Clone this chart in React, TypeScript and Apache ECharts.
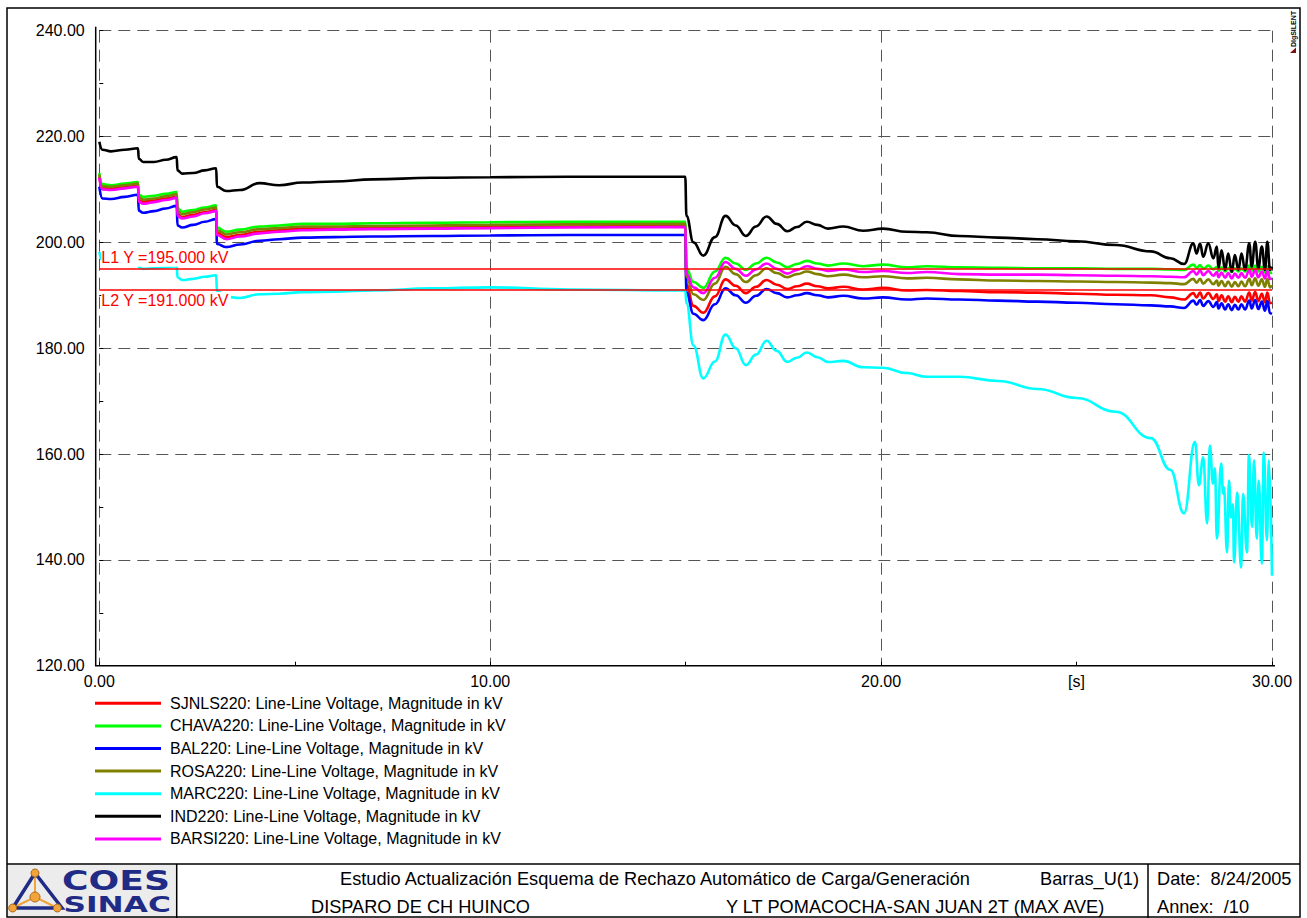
import React, { useEffect, useRef } from "react";
import * as echarts from "echarts";

const FONT = "'Liberation Sans', Arial, Helvetica, sans-serif";

// ---- time grids [s] ----
const timeMain = [
  0, 0.08, 0.3, 0.65, 0.99, 1.01, 1.12, 1.4, 1.7, 1.98, 2.0, 2.12, 2.4, 2.7, 2.99,
  3.01, 3.25, 3.6, 4.1, 4.6, 5.2, 6.0, 7.0, 8.5, 10.0, 12.0, 14.99,
  15.02, 15.2, 15.45, 15.75, 16.02, 16.28, 16.54, 16.8, 17.07, 17.33, 17.6, 17.85, 18.1,
  18.37, 18.64, 19.03, 19.54, 20.05, 20.66, 21.17, 22.0, 23.0, 24.0, 25.0, 26.0, 26.9, 27.4, 27.75,
];
const timeTail = [
  27.99, 28.07, 28.16, 28.24, 28.37, 28.5, 28.59, 28.63, 28.71, 28.8, 28.88, 28.97, 29.05,
  29.14, 29.22, 29.31, 29.42, 29.48, 29.57, 29.65, 29.74, 29.82, 29.88, 29.95, 30.0,
];
const timeTailMarc = [
  28.03, 28.13, 28.24, 28.34, 28.41, 28.49, 28.54, 28.59, 28.7, 28.75, 28.77, 28.85, 28.9, 28.95,
  29.0, 29.03, 29.11, 29.21, 29.26, 29.36, 29.41, 29.49, 29.54, 29.61, 29.66, 29.74, 29.79, 29.87, 29.92, 30.0,
];

// ---- voltages [kV] ----
const sjnls220Main = [
  212.4, 210.3, 210.2, 210.4, 210.7, 208.0, 207.7, 207.9, 208.3, 208.6, 205.3, 204.8, 205.2, 205.7, 206.1,
  201.8, 201.0, 201.4, 202.0, 202.3, 202.6, 202.6, 202.7, 202.8, 202.9, 203.0, 203.1,
  192.0, 188.0, 186.7, 189.8, 193.0, 191.8, 190.4, 191.6, 192.9, 192.0, 191.2, 191.7, 192.2,
  191.7, 191.3, 191.6, 191.1, 191.4, 190.9, 191.0, 190.8, 190.6, 190.5, 190.3, 190.1, 190.0, 189.6, 189.2,
];
const sjnls220Tail = [
  190.4, 189.6, 190.5, 189.4, 190.4, 189.3, 190.2, 188.9, 190.0, 188.8, 189.8, 188.7, 189.7,
  188.8, 189.8, 188.8, 190.5, 189.0, 190.6, 188.9, 190.3, 188.7, 190.5, 188.5, 188.6,
];
const chava220Main = [
  213.1, 211.0, 210.8, 211.1, 211.4, 209.0, 208.6, 208.8, 209.2, 209.5, 206.5, 205.8, 206.1, 206.6, 207.0,
  202.8, 202.0, 202.4, 203.0, 203.2, 203.5, 203.5, 203.6, 203.7, 203.8, 203.9, 203.9,
  195.0, 192.5, 191.4, 194.5, 197.1, 196.0, 194.8, 196.0, 197.1, 196.2, 195.3, 195.9, 196.5,
  196.0, 195.6, 196.0, 195.5, 195.8, 195.3, 195.5, 195.3, 195.2, 195.1, 195.1, 195.0, 195.0, 194.9, 194.8,
];
const chava220Tail = [
  195.8, 195.2, 195.7, 195.0, 195.6, 194.9, 195.4, 194.6, 195.3, 194.5, 195.2, 194.4, 195.1,
  194.5, 195.1, 194.5, 195.6, 194.6, 195.6, 194.5, 195.4, 194.3, 195.5, 194.2, 194.3,
];
const bal220Main = [
  210.5, 208.3, 208.2, 208.6, 209.0, 206.0, 205.6, 205.9, 206.4, 206.9, 203.2, 202.8, 203.3, 203.9, 204.4,
  199.7, 199.1, 199.6, 200.3, 200.6, 200.9, 201.0, 201.1, 201.2, 201.3, 201.4, 201.4,
  190.5, 186.5, 185.3, 188.3, 191.3, 190.0, 188.6, 189.9, 191.2, 190.4, 189.6, 190.0, 190.4,
  190.0, 189.6, 189.9, 189.4, 189.6, 189.2, 189.4, 189.2, 189.0, 188.8, 188.6, 188.3, 188.1, 187.9, 187.6,
];
const bal220Tail = [
  189.0, 188.2, 189.1, 188.0, 188.9, 187.8, 188.7, 187.5, 188.5, 187.3, 188.3, 187.2, 188.2,
  187.3, 188.3, 187.3, 189.0, 187.5, 189.1, 187.4, 188.8, 187.1, 188.9, 186.6, 186.5,
];
const rosa220Main = [
  212.8, 210.6, 210.5, 210.8, 211.1, 208.5, 208.1, 208.3, 208.7, 209.1, 205.9, 205.3, 205.7, 206.2, 206.6,
  202.3, 201.5, 201.9, 202.5, 202.7, 203.0, 203.0, 203.1, 203.2, 203.3, 203.4, 203.5,
  193.5, 190.2, 189.1, 192.2, 195.4, 194.0, 192.5, 193.8, 195.1, 194.2, 193.4, 194.0, 194.5,
  194.0, 193.6, 193.9, 193.4, 193.6, 193.2, 193.3, 193.0, 192.8, 192.7, 192.6, 192.5, 192.4, 192.3, 192.1,
];
const rosa220Tail = [
  193.1, 192.4, 193.1, 192.2, 193.0, 192.1, 192.8, 191.8, 192.7, 191.7, 192.6, 191.6, 192.5,
  191.7, 192.6, 191.7, 193.1, 191.9, 193.2, 191.8, 193.0, 191.6, 193.1, 191.5, 191.9,
];
const marc220Main = [
  198.2, 196.6, 196.5, 196.8, 197.1, 195.3, 195.0, 195.1, 195.3, 195.5, 193.4, 192.9, 193.1, 193.5, 193.8,
  190.8, 189.7, 189.5, 190.2, 190.3, 190.6, 190.7, 190.9, 191.3, 191.5, 191.1, 190.9,
  188.5, 180.5, 174.3, 177.5, 182.6, 180.0, 176.8, 178.8, 181.4, 179.5, 177.4, 178.2, 179.2,
  178.3, 177.4, 177.6, 176.4, 176.3, 175.3, 174.6, 174.6, 173.8, 172.3, 170.6, 168.0, 163.0, 157.0, 148.8,
];
const marc220Tail = [
  162.3, 154.1, 159.4, 146.9, 161.6, 154.4, 157.3, 144.0, 158.2, 152.5, 153.7, 141.4, 155.0, 148.0,
  150.5, 139.5, 152.7, 138.5, 152.5, 141.4, 159.8, 146.2, 158.8, 144.0, 155.0, 139.3, 160.3, 143.7, 158.8, 137.0,
];
const ind220Main = [
  219.0, 217.5, 217.2, 217.5, 217.8, 215.8, 215.2, 215.2, 215.6, 216.1, 213.6, 213.0, 213.1, 213.6, 214.0,
  210.5, 209.7, 209.9, 211.2, 210.8, 211.3, 211.5, 211.9, 212.2, 212.3, 212.4, 212.4,
  205.0, 200.0, 197.5, 201.0, 205.0, 203.2, 201.2, 203.0, 204.9, 203.5, 202.1, 202.9, 203.9,
  203.3, 202.6, 203.0, 202.2, 202.6, 202.0, 201.9, 201.2, 200.9, 200.6, 200.2, 199.5, 198.3, 197.0, 195.9,
];
const ind220Tail = [
  199.8, 197.9, 199.8, 197.3, 199.8, 197.0, 199.2, 195.1, 198.5, 194.8, 197.9, 194.4, 197.6,
  194.8, 197.9, 194.8, 199.8, 195.4, 200.1, 195.1, 199.2, 194.8, 200.1, 194.8, 195.4,
];
const barsi220Main = [
  212.2, 210.0, 209.9, 210.2, 210.5, 207.7, 207.3, 207.6, 208.0, 208.4, 205.0, 204.5, 204.9, 205.5, 205.9,
  201.4, 200.6, 201.1, 201.7, 202.0, 202.3, 202.4, 202.5, 202.6, 202.7, 202.8, 202.9,
  194.0, 191.5, 190.4, 193.3, 196.3, 195.0, 193.7, 194.9, 196.0, 195.0, 194.1, 194.8, 195.5,
  195.0, 194.6, 194.9, 194.4, 194.6, 194.2, 194.4, 194.0, 193.9, 193.9, 193.8, 193.7, 193.6, 193.5, 193.4,
];
const barsi220Tail = [
  194.6, 193.9, 194.7, 193.8, 194.6, 193.7, 194.4, 193.4, 194.3, 193.3, 194.2, 193.2, 194.1,
  193.3, 194.2, 193.3, 194.7, 193.5, 194.8, 193.4, 194.5, 193.2, 194.6, 193.1, 193.2,
];

// limit lines
const limitValues = [195, 191];
const limitLabels = ["L1 Y =195.000 kV", "L2 Y =191.000 kV"];

const seriesNames = [
  "SJNLS220: Line-Line Voltage, Magnitude in kV",
  "CHAVA220: Line-Line Voltage, Magnitude in kV",
  "BAL220: Line-Line Voltage, Magnitude in kV",
  "ROSA220: Line-Line Voltage, Magnitude in kV",
  "MARC220: Line-Line Voltage, Magnitude in kV",
  "IND220: Line-Line Voltage, Magnitude in kV",
  "BARSI220: Line-Line Voltage, Magnitude in kV",
];
const seriesColors = ["#ff0000", "#00ff00", "#0000ff", "#808000", "#00ffff", "#000000", "#ff00ff"];
const seriesMain = [sjnls220Main, chava220Main, bal220Main, rosa220Main, marc220Main, ind220Main, barsi220Main];
const seriesTail = [sjnls220Tail, chava220Tail, bal220Tail, rosa220Tail, marc220Tail, ind220Tail, barsi220Tail];
const seriesTailTimes = [timeTail, timeTail, timeTail, timeTail, timeTailMarc, timeTail, timeTail];

const yTicks = [120, 140, 160, 180, 200, 220, 240];
const xTicks = [0, 10, 20, 30];

function buildOption() {
  const lineSeries: any[] = seriesNames.map((name, i) => {
    const data = timeMain
      .map((t, k) => [t, seriesMain[i][k]])
      .concat(seriesTailTimes[i].map((t, k) => [t, seriesTail[i][k]]));
    return {
      type: "line",
      name,
      data,
      symbol: "none",
      showSymbol: false,
      smooth: 0.45,
      smoothMonotone: "x",
      color: seriesColors[i],
      itemStyle: { color: seriesColors[i] },
      lineStyle: { color: seriesColors[i], width: 2.6 },
      animation: false,
      silent: true,
    };
  });
  lineSeries.push({
    type: "line",
    name: "limits",
    data: [],
    symbol: "none",
    silent: true,
    animation: false,
    z: 5,
    markLine: {
      silent: true,
      symbol: "none",
      animation: false,
      lineStyle: { color: "#ff0000", width: 1.5, type: "solid" },
      data: limitValues.map((v, i) => ({
        yAxis: v,
        label: {
          show: true,
          formatter: limitLabels[i],
          position: i === 0 ? "insideStartTop" : "insideStartBottom",
          color: "#ff0000",
          fontSize: 16,
          fontFamily: FONT,
          backgroundColor: "#ffffff",
          padding: [1, 2, 1, 0],
          distance: 2,
        },
      })),
    },
  });

  const navy = "#1f2b85";
  const orange = "#f2a33a";
  const footerFont = `18.2px ${FONT}`;
  const txt = (text: string, x: number, y: number, font: string, extra: any = {}) => ({
    type: "text",
    x,
    y,
    silent: true,
    z: 20,
    ...extra,
    style: {
      text,
      font,
      fill: "#000",
      textAlign: "left",
      textVerticalAlign: "middle",
      align: "left",
      verticalAlign: "middle",
      ...(extra.style || {}),
    },
  });

  const graphic: any[] = [
    // logo background
    { type: "rect", silent: true, z: 1, shape: { x: 8, y: 865, width: 168, height: 53 }, style: { fill: "#ececec" } },
    // page frame
    { type: "rect", silent: true, z: 20, shape: { x: 7, y: 8, width: 1293, height: 909 }, style: { fill: "none", stroke: "#000", lineWidth: 1.5 } },
    { type: "line", silent: true, z: 20, shape: { x1: 7, y1: 864, x2: 1300, y2: 864 }, style: { stroke: "#000", lineWidth: 1.5 } },
    { type: "line", silent: true, z: 20, shape: { x1: 176.7, y1: 864, x2: 176.7, y2: 918 }, style: { stroke: "#000", lineWidth: 1.5 } },
    { type: "line", silent: true, z: 20, shape: { x1: 1148, y1: 864, x2: 1148, y2: 918 }, style: { stroke: "#000", lineWidth: 1.5 } },
    // axis lines
    { type: "line", silent: true, z: 20, shape: { x1: 95.7, y1: 26.7, x2: 95.7, y2: 666 }, style: { stroke: "#000", lineWidth: 1.5 } },
    { type: "line", silent: true, z: 20, shape: { x1: 95, y1: 665.7, x2: 1275, y2: 665.7 }, style: { stroke: "#000", lineWidth: 1.5 } },
    // logo triangle
    { type: "line", silent: true, z: 2, shape: { x1: 35, y1: 897, x2: 35, y2: 873 }, style: { stroke: orange, lineWidth: 2 } },
    { type: "line", silent: true, z: 2, shape: { x1: 35, y1: 897, x2: 12.7, y2: 908 }, style: { stroke: orange, lineWidth: 2 } },
    { type: "line", silent: true, z: 2, shape: { x1: 35, y1: 897, x2: 57.3, y2: 908 }, style: { stroke: orange, lineWidth: 2 } },
    { type: "polyline", silent: true, z: 3, shape: { points: [[35, 873], [12.7, 908], [62, 908], [35, 873]] }, style: { stroke: navy, lineWidth: 3.5, fill: "none" } },
    { type: "circle", silent: true, z: 4, shape: { cx: 35, cy: 873, r: 4 }, style: { fill: orange, stroke: "#a86a1a", lineWidth: 1 } },
    { type: "circle", silent: true, z: 4, shape: { cx: 12.7, cy: 908, r: 4 }, style: { fill: orange, stroke: "#a86a1a", lineWidth: 1 } },
    { type: "circle", silent: true, z: 4, shape: { cx: 57.3, cy: 908, r: 4 }, style: { fill: orange, stroke: "#a86a1a", lineWidth: 1 } },
    { type: "circle", silent: true, z: 4, shape: { cx: 35, cy: 897, r: 5 }, style: { fill: orange, stroke: "#a86a1a", lineWidth: 1 } },
    txt("COES", 62, 881, "bold 26px 'DejaVu Sans'", { scaleX: 1.39, style: { fill: navy } }),
    txt("SINAC", 63.5, 904, "bold 22px 'DejaVu Sans'", { scaleX: 1.42, style: { fill: navy } }),
    // footer texts
    txt("Estudio Actualización Esquema de Rechazo Automático de Carga/Generación", 340, 879, footerFont),
    txt("Barras_U(1)", 1040, 879, footerFont),
    txt("Date:  8/24/2005", 1157, 879, footerFont),
    txt("DISPARO DE CH HUINCO", 311, 907, footerFont),
    txt("Y LT POMACOCHA-SAN JUAN 2T (MAX AVE)", 726, 907, footerFont),
    txt("Annex:  /10", 1157, 907, footerFont),
    // DIgSILENT mark
    {
      type: "text",
      x: 1293,
      y: 29,
      rotation: Math.PI / 2,
      silent: true,
      z: 20,
      style: { text: "DIgSILENT", font: `bold 7px ${FONT}`, fill: "#000", textAlign: "center", textVerticalAlign: "middle", align: "center", verticalAlign: "middle" },
    },
    { type: "polygon", silent: true, z: 20, shape: { points: [[1290, 53], [1296, 47.5], [1296, 53]] }, style: { fill: "#7a1010" } },
  ];

  return {
    animation: false,
    backgroundColor: "#ffffff",
    grid: { left: 99.3, top: 30.7, width: 1172.7, height: 635, containLabel: false },
    legend: {
      data: seriesNames.map((n) => ({ name: n, icon: "rect" })),
      orient: "vertical",
      left: 95,
      top: 695.3,
      padding: 0,
      itemWidth: 66,
      itemHeight: 3,
      itemGap: 6.6,
      selectedMode: false,
      textStyle: { fontSize: 16, fontFamily: FONT, color: "#000", lineHeight: 16, padding: [0, 0, 0, 4] },
    },
    xAxis: {
      type: "value",
      min: xTicks[0],
      max: xTicks[xTicks.length - 1],
      interval: 10,
      axisLine: { show: false },
      axisTick: { show: true, inside: true, length: 4, lineStyle: { color: "#000", width: 1 } },
      minorTick: { show: true, splitNumber: 2, length: 4, lineStyle: { color: "#000", width: 1 } },
      axisLabel: { show: true, margin: 8, fontSize: 16, fontFamily: FONT, color: "#000", formatter: (v: number) => v.toFixed(2) },
      splitLine: { show: true, lineStyle: { color: "#555", width: 1, type: [12, 7] } },
    },
    yAxis: {
      type: "value",
      min: yTicks[0],
      max: yTicks[yTicks.length - 1],
      interval: 20,
      offset: 3.6,
      axisLine: { show: false },
      axisTick: { show: true, inside: true, length: 4, lineStyle: { color: "#000", width: 1 } },
      minorTick: { show: true, splitNumber: 2, length: 4, lineStyle: { color: "#000", width: 1 } },
      axisLabel: { show: true, margin: 11, fontSize: 16, fontFamily: FONT, color: "#000", formatter: (v: number) => v.toFixed(2) },
      splitLine: { show: true, lineStyle: { color: "#555", width: 1, type: [12, 7] } },
    },
    graphic: { elements: graphic },
    series: lineSeries,
  };
}

export default function App() {
  const ref = useRef<HTMLDivElement>(null);
  useEffect(() => {
    if (!ref.current) return;
    const chart = echarts.init(ref.current, null, { renderer: "svg" });
    chart.setOption(buildOption() as any);
    const px = chart.convertToPixel({ xAxisIndex: 0 } as any, 25) as number;
    const py = chart.convertToPixel({ yAxisIndex: 0 } as any, 120) as number;
    chart.setOption({
      graphic: {
        elements: [
          {
            id: "unit",
            type: "text",
            x: px,
            y: py + 16,
            silent: true,
            z: 20,
            style: { text: "[s]", font: `16px ${FONT}`, fill: "#000", textAlign: "center", textVerticalAlign: "middle", align: "center", verticalAlign: "middle" },
          },
        ],
      },
    } as any);
    return () => chart.dispose();
  }, []);
  return (
    <div
      ref={ref}
      style={{ position: "absolute", left: 0, top: 0, width: 1307, height: 918, background: "#fff" }}
    />
  );
}
